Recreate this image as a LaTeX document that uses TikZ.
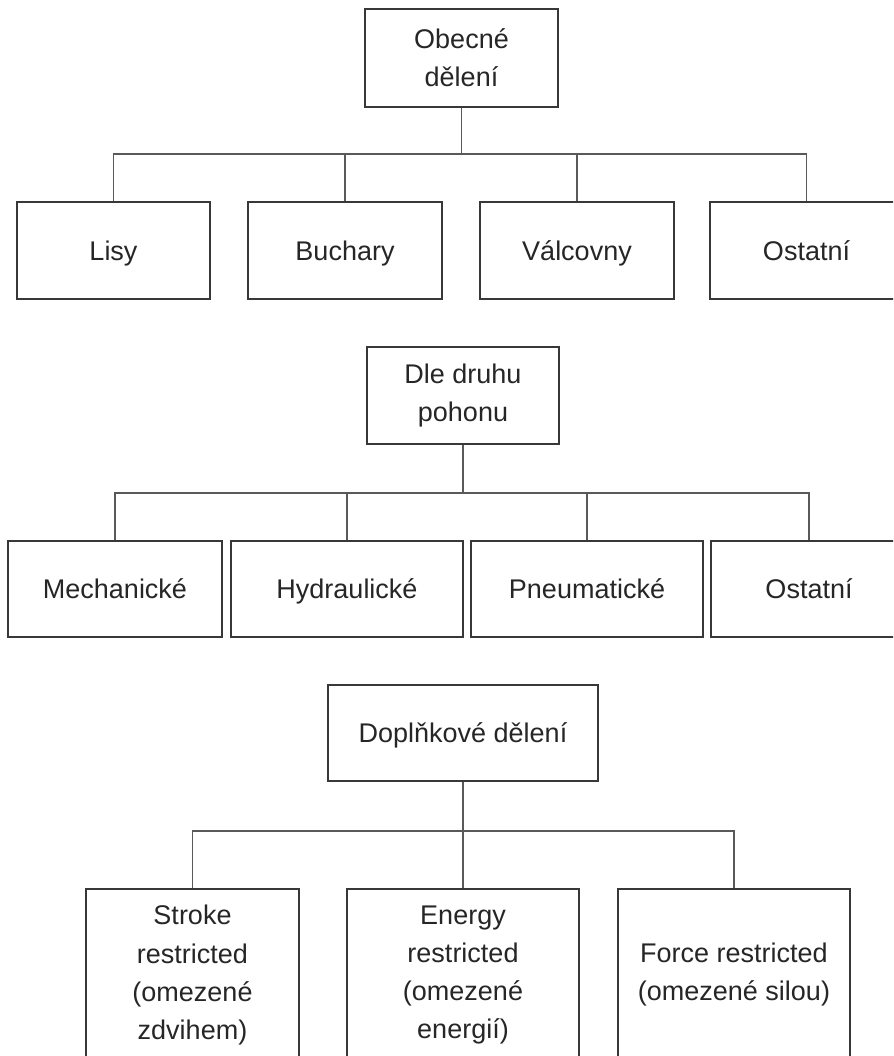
\documentclass[tikz,border=0pt]{standalone}
\usepackage{fontspec}
\setmainfont{Liberation Sans}
\begin{document}
\begin{tikzpicture}[x=1pt,y=-1pt,
  box/.style={draw=black!78, line width=1.6pt, fill=white, inner sep=0pt, align=center,
    text=black!85, font=\fontsize{27}{38}\selectfont, anchor=center},
  oneline/.style={text height=19.4pt, text depth=0pt},
  conn/.style={draw=black!65, line width=1.5pt}]
\useasboundingbox (0,0) rectangle (893,1056);
\clip (0,0) rectangle (893,1056);
\fill[white] (0,0) rectangle (893,1056);

% group 1
\node[box, minimum width=193pt, minimum height=98pt] (top1) at (461.5,58) {Obecné\\dělení};
\node[box, oneline, minimum width=193pt, minimum height=97pt] (l1) at (113.5,250.5) {Lisy};
\node[box, oneline, minimum width=194pt, minimum height=97pt] (b1) at (345,250.5) {Buchary};
\node[box, oneline, minimum width=194pt, minimum height=97pt] (v1) at (577,250.5) {Válcovny};
\node[box, oneline, minimum width=193pt, minimum height=97pt] (o1) at (806.5,250.5) {Ostatní};
\coordinate (j1) at (462,154);
\draw[conn] (top1.south) -- (top1.south |- j1);
\draw[conn] (l1.north) -- (l1.north |- j1) -- (o1.north |- j1) -- (o1.north);
\draw[conn] (b1.north) -- (b1.north |- j1);
\draw[conn] (v1.north) -- (v1.north |- j1);

% group 2
\node[box, minimum width=192pt, minimum height=97pt] (top2) at (463,395.5) {Dle druhu\\pohonu};
\node[box, oneline, minimum width=214pt, minimum height=96pt] (m2) at (115,589) {Mechanické};
\node[box, oneline, minimum width=232pt, minimum height=96pt] (h2) at (347,589) {Hydraulické};
\node[box, oneline, minimum width=232pt, minimum height=96pt] (p2) at (587,589) {Pneumatické};
\node[box, oneline, minimum width=196pt, minimum height=96pt] (o2) at (809,589) {Ostatní};
\coordinate (j2) at (464,493);
\draw[conn] (top2.south) -- (top2.south |- j2);
\draw[conn] (m2.north) -- (m2.north |- j2) -- (o2.north |- j2) -- (o2.north);
\draw[conn] (h2.north) -- (h2.north |- j2);
\draw[conn] (p2.north) -- (p2.north |- j2);

% group 3
\node[box, oneline, minimum width=270pt, minimum height=96pt] (top3) at (463,733) {Doplňkové dělení};
\node[box, minimum width=213pt, minimum height=172pt] (s3) at (192.5,975) {Stroke\\restricted\\(omezené\\zdvihem)};
\node[box, minimum width=232pt, minimum height=172pt] (e3) at (463,975) {Energy\\restricted\\(omezené\\energií)};
\node[box, minimum width=232pt, minimum height=172pt] (f3) at (734,975) {Force restricted\\(omezené silou)};
\coordinate (j3) at (464,831);
\draw[conn] (top3.south) -- (top3.south |- j3);
\draw[conn] (s3.north) -- (s3.north |- j3) -- (f3.north |- j3) -- (f3.north);
\draw[conn] (e3.north) -- (e3.north |- j3);
\end{tikzpicture}
\end{document}
